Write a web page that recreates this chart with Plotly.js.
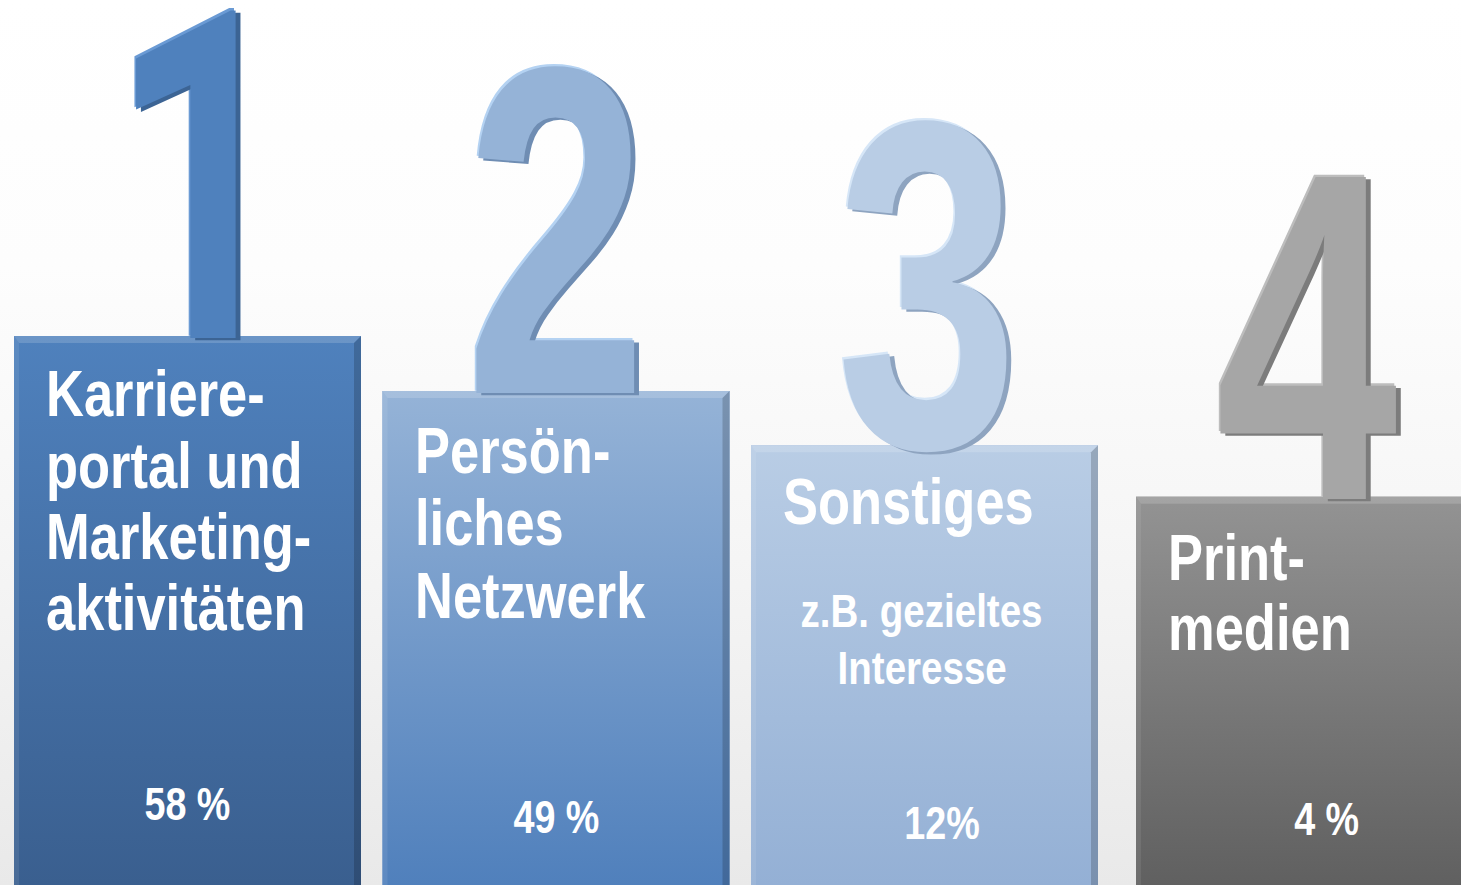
<!DOCTYPE html>
<html>
<head>
<meta charset="utf-8">
<script src="https://cdn.plot.ly/plotly-3.0.1.min.js"></script>
<style>
  html, body { margin: 0; padding: 0; overflow: hidden; }
  #chart {
    width: 1461px; height: 885px;
    background: linear-gradient(to bottom, #ffffff 0%, #fdfdfd 30%, #f6f6f6 60%, #e9e9e9 100%);
  }
</style>
</head>
<body>
<div id="chart"></div>
<script>
// ---------------- data ----------------
const ranks = ["1", "2", "3", "4"];
const podiumLevels = [100, 90, 80.1, 70.7];          // podium step heights (rank 1 = 100)
const labelLines = [
  ["Karriere-", "portal und", "Marketing-", "aktivitäten"],
  ["Persön-", "liches", "Netzwerk"],
  ["Sonstiges"],
  ["Print-", "medien"]
];
const subLines = [[], [], ["z.B. gezieltes", "Interesse"], []];
const shareValues = [58, 49, 12, 4];
const shareLabels = ["58 %", "49 %", "12%", "4 %"];

// ---------------- styles ----------------
const FONT = "'Liberation Sans', Arial, sans-serif";
const NARROW = 0.82;        // horizontal condensing of labels (Arial Narrow look)
const DIGIT_NARROW = 0.70;  // horizontal condensing of the big rank digits
const barTop    = ["#4f81bd", "#95b3d7", "#b9cde5", "#939393"];
const barBottom = ["#3a5f8f", "#5080bc", "#94b0d5", "#606060"];
const barMid    = ["#456fa6", "#7399c9", "#a7bfdd", "#7a7a7a"];
const digitColor = ["#4f81bd", "#95b3d7", "#b9cde5", "#a6a6a6"];
const digitFont = ["Roboto, sans-serif", FONT, FONT, FONT];
const digitDescent = [0.244, 0.212, 0.212, 0.212];
const digitSize = [460, 468, 468, 468];
const digitShadow = [
  "6px 2px 0px #3c6494, -2px -2px 0px #6a9ad4",
  "6px 2px 0px #6f8db3, -2px -2px 0px #b4d2f2",
  "6px 2px 0px #8ea4c0, -2px -2px 0px #d6e6f7",
  "6px 2px 0px #7c7c7c, -2px -2px 0px #bdbdbd"
];

const W = 1461, H = 885;
const PX_X = 368.5, PX_Y = 5.49;
const BAR_W = 347 / PX_X;
const shiftX = [0, 0, 0, 16.5 / PX_X];
const xRange = [-187.5 / PX_X, -187.5 / PX_X + W / PX_X];
const yRange = [0, H / PX_Y];
const cx = i => i + shiftX[i];
const pxX = p => p / PX_X, pxY = p => p / PX_Y;

const traces = [];
// base bars
traces.push({
  type: "bar",
  x: ranks.map((_, i) => i),
  y: podiumLevels,
  width: BAR_W,
  offset: ranks.map((_, i) => -BAR_W / 2 + shiftX[i]),
  marker: { color: barMid, line: { width: 0 } },
  hoverinfo: "skip",
  showlegend: false
});
// gradient faces + bevels
podiumLevels.forEach((h, i) => {
  const l = cx(i) - BAR_W / 2, r = cx(i) + BAR_W / 2;
  traces.push({
    type: "scatter", mode: "lines", x: [l, r, r, l, l], y: [0, 0, h, h, 0],
    fill: "toself", line: { width: 0 }, hoverinfo: "skip", showlegend: false,
    fillgradient: { type: "vertical", colorscale: [[0, barBottom[i]], [1, barTop[i]]] }
  });
  const b = pxX(7), bt = pxY(7), bl = pxX(5);
  traces.push({
    type: "scatter", mode: "lines", x: [l, r, r - b, l + bl, l], y: [h, h, h - bt, h - bt, h],
    fill: "toself", fillcolor: "rgba(255,255,255,0.16)", line: { width: 0 }, hoverinfo: "skip", showlegend: false
  });
  traces.push({
    type: "scatter", mode: "lines", x: [l, l + bl, l + bl, l, l], y: [0, 0, h - bt, h, 0],
    fill: "toself", fillcolor: "rgba(255,255,255,0.08)", line: { width: 0 }, hoverinfo: "skip", showlegend: false
  });
  traces.push({
    type: "scatter", mode: "lines", x: [r - b, r, r, r - b, r - b], y: [0, 0, h, h - bt, 0],
    fill: "toself", fillcolor: "rgba(0,0,0,0.18)", line: { width: 0 }, hoverinfo: "skip", showlegend: false
  });
});

const annotations = [];
const anchors = [];
const scales = [];
// big rank digits
const digitXShift = [14, 0, 2, -2];
ranks.forEach((t, i) => {
  annotations.push({
    x: cx(i), y: podiumLevels[i], xref: "x", yref: "y",
    text: t, showarrow: false, xanchor: "center", yanchor: "bottom",
    xshift: digitXShift[i], yshift: -(digitDescent[i] * digitSize[i] + 1) - 3,
    font: { family: digitFont[i], size: digitSize[i], color: digitColor[i], weight: "bold", shadow: digitShadow[i] }
  });
  anchors.push("center"); scales.push(DIGIT_NARROW);
});
// category labels
const LABEL_FS = 64;
const lineOffsets = [[81, 153, 224, 295], [84, 156, 229], [80], [85, 155]];
labelLines.forEach((lines, i) => {
  lines.forEach((t, j) => {
    annotations.push({
      x: cx(i) - BAR_W / 2, y: podiumLevels[i], xref: "x", yref: "y",
      text: t, showarrow: false, xanchor: "left", yanchor: "bottom",
      xshift: 30, yshift: -(lineOffsets[i][j] + 0.212 * LABEL_FS + 1),
      font: { family: FONT, size: LABEL_FS, color: "#ffffff", weight: "bold" }
    });
    anchors.push("left"); scales.push(NARROW);
  });
});
const SUB_FS = 47;
const subOffsets = [[], [], [183, 240], []];
subLines.forEach((lines, i) => {
  lines.forEach((t, j) => {
    annotations.push({
      x: cx(i), y: podiumLevels[i], xref: "x", yref: "y",
      text: t, showarrow: false, xanchor: "center", yanchor: "bottom",
      xshift: -3, yshift: -(subOffsets[i][j] + 0.212 * SUB_FS + 1),
      font: { family: FONT, size: SUB_FS, color: "#ffffff", weight: "bold" }
    });
    anchors.push("center"); scales.push(NARROW);
  });
});
// share labels
const SHARE_FS = 46;
const shareBaseline = [64, 51, 45, 49];
const shareXShift = [0, 0, 17, 17];
shareLabels.forEach((t, i) => {
  annotations.push({
    x: cx(i), y: 0, xref: "x", yref: "y",
    text: t, showarrow: false, xanchor: "center", yanchor: "bottom",
    xshift: shareXShift[i], yshift: shareBaseline[i] - 0.212 * SHARE_FS - 1,
    font: { family: FONT, size: SHARE_FS, color: "#ffffff", weight: "bold" }
  });
  anchors.push("center"); scales.push(NARROW);
});

const layout = {
  width: W, height: H,
  margin: { l: 0, r: 0, t: 0, b: 0, pad: 0 },
  paper_bgcolor: "rgba(0,0,0,0)", plot_bgcolor: "rgba(0,0,0,0)",
  showlegend: false,
  xaxis: { range: xRange, visible: false, fixedrange: true },
  yaxis: { range: yRange, visible: false, fixedrange: true },
  annotations: annotations,
  hovermode: false
};

Plotly.newPlot("chart", traces, layout, { displayModeBar: false, staticPlot: true }).then(gd => {
  // condense annotation text horizontally (narrow typeface look)
  gd.querySelectorAll("g.annotation").forEach(g => {
    const idx = +g.getAttribute("data-index");
    const txt = g.querySelector("text.annotation-text");
    if (!txt) return;
    txt.style.transformBox = "fill-box";
    txt.style.transformOrigin = anchors[idx] === "left" ? "left center" : "center center";
    txt.style.transform = "scaleX(" + scales[idx] + ")";
  });
});
</script>
</body>
</html>
